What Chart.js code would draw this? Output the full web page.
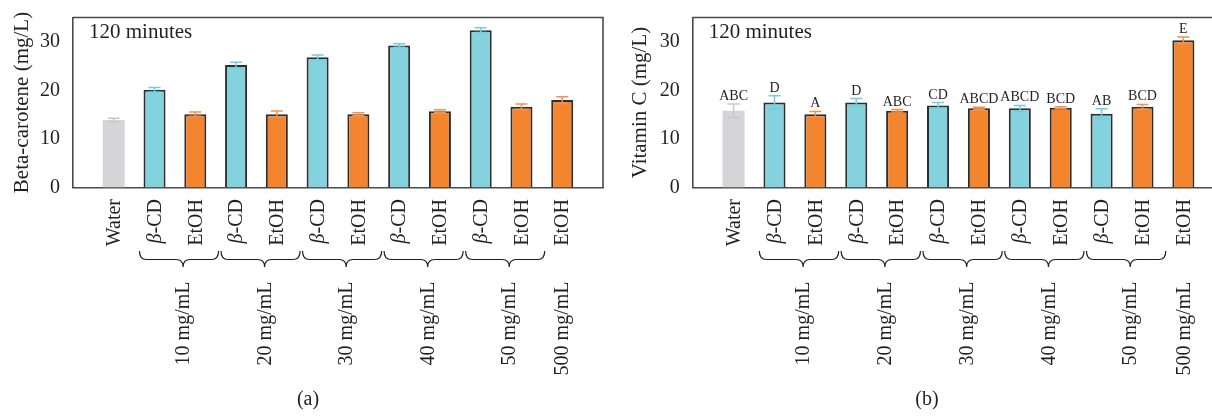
<!DOCTYPE html>
<html>
<head>
<meta charset="utf-8">
<script src="https://cdn.jsdelivr.net/npm/chart.js@4.4.1/dist/chart.umd.min.js"></script>
<style>
body { margin: 0; background: #fff; width: 1212px; height: 417px; overflow: hidden; position: relative; }
canvas { position: absolute; top: 0; }
#chartA { left: 0; }
#chartB { left: 610px; }
</style>
</head>
<body>
<canvas id="chartA" width="610" height="417"></canvas>
<canvas id="chartB" width="602" height="417"></canvas>
<script>
// Données (120 minutes)
const treatments = ['Water', 'β-CD', 'EtOH', 'β-CD', 'EtOH', 'β-CD', 'EtOH', 'β-CD', 'EtOH', 'β-CD', 'EtOH', 'EtOH'];
const concentrations = ['10 mg/mL', '20 mg/mL', '30 mg/mL', '40 mg/mL', '50 mg/mL'];
const concentrationHaute = '500 mg/mL';
const betaCarotene = [13.9, 20.1, 15.1, 25.2, 15.1, 26.8, 15.1, 29.25, 15.7, 32.4, 16.6, 18.0];
const betaCaroteneSd = [0.35, 0.5, 0.45, 0.6, 0.65, 0.5, 0.3, 0.35, 0.3, 0.5, 0.6, 0.7];
const vitaminC = [15.8, 17.5, 15.1, 17.5, 15.8, 16.9, 16.3, 16.3, 16.4, 15.2, 16.6, 30.3];
const vitaminCSd = [1.4, 1.4, 0.55, 0.8, 0.25, 0.6, 0.2, 0.6, 0.2, 1.0, 0.5, 0.7];
const vitaminCLetters = ['ABC', 'D', 'A', 'D', 'ABC', 'CD', 'ABCD', 'ABCD', 'BCD', 'AB', 'BCD', 'E'];
const yTicks = [0, 10, 20, 30];

const couleurs = { 'Water': '#d5d5d7', 'β-CD': '#83d2dd', 'EtOH': '#f3852e' };
const couleursErreur = { 'Water': '#c8c8ca', 'β-CD': '#6fcfdd', 'EtOH': '#f6904a' };
const police = 'Liberation Serif';
const encre = '#231f20';
const cadre = '#4a4a4a';

Chart.defaults.font.family = police;
Chart.defaults.color = encre;

// Texte tourné (lecture de bas en haut), aligné en haut sur yHaut
function texteVertical(ctx, morceaux, x, yHaut) {
    let total = 0;
    morceaux.forEach(m => { ctx.font = m.font; m.w = ctx.measureText(m.t).width; total += m.w; });
    ctx.save();
    ctx.translate(x, yHaut);
    ctx.rotate(-Math.PI / 2);
    ctx.textAlign = 'left';
    ctx.textBaseline = 'middle';
    let pos = -total;
    morceaux.forEach(m => { ctx.font = m.font; ctx.fillText(m.t, pos, 0); pos += m.w; });
    ctx.restore();
}

function accolade(ctx, gauche, droite, pointe, y0, y1, y2) {
    const r = 7;
    ctx.beginPath();
    ctx.moveTo(gauche, y0);
    ctx.quadraticCurveTo(gauche, y1, gauche + r, y1);
    ctx.lineTo(pointe - r, y1);
    ctx.quadraticCurveTo(pointe, y1, pointe, y2);
    ctx.quadraticCurveTo(pointe, y1, pointe + r, y1);
    ctx.lineTo(droite - r, y1);
    ctx.quadraticCurveTo(droite, y1, droite, y0);
    ctx.stroke();
}

const decorPlugin = {
    id: 'decor',
    afterDatasetsDraw(chart, args, opts) {
        const ctx = chart.ctx;
        const xs = chart.scales.x, ys = chart.scales.y;
        const area = chart.chartArea;
        const pas = xs.getPixelForValue(1) - xs.getPixelForValue(0);
        const normal = '20px "' + police + '"';
        const italique = 'italic 20px "' + police + '"';
        ctx.save();

        // barres d'erreur + lettres
        opts.values.forEach((v, i) => {
            const px = xs.getPixelForValue(i + 1);
            const haut = ys.getPixelForValue(v + opts.errors[i]);
            const bas = ys.getPixelForValue(v - opts.errors[i]);
            ctx.strokeStyle = couleursErreur[treatments[i]];
            ctx.lineWidth = 1.5;
            ctx.beginPath();
            ctx.moveTo(px, haut); ctx.lineTo(px, bas);
            ctx.moveTo(px - 6, haut); ctx.lineTo(px + 6, haut);
            ctx.moveTo(px - 6, bas); ctx.lineTo(px + 6, bas);
            ctx.stroke();
            if (opts.letters) {
                ctx.fillStyle = encre;
                ctx.font = '14px "' + police + '"';
                ctx.textAlign = 'center';
                ctx.textBaseline = 'alphabetic';
                ctx.fillText(opts.letters[i], px, haut - 4);
            }
        });

        // cadre haut / droit
        ctx.strokeStyle = cadre;
        ctx.lineWidth = 1.6;
        ctx.beginPath();
        ctx.moveTo(area.left, area.top);
        ctx.lineTo(area.right, area.top);
        if (opts.bordDroit) ctx.lineTo(area.right, area.bottom);
        ctx.stroke();

        ctx.fillStyle = encre;
        ctx.font = '21px "' + police + '"';
        ctx.textAlign = 'left';
        ctx.textBaseline = 'middle';
        ctx.fillText('120 minutes', area.left + 16, area.top + 15);

        // étiquettes de l'axe x
        treatments.forEach((t, i) => {
            const px = xs.getPixelForValue(i + 1);
            const morceaux = t === 'β-CD'
                ? [{ t: 'β', font: italique }, { t: '-CD', font: normal }]
                : [{ t: t, font: normal }];
            texteVertical(ctx, morceaux, px + 1, 199);
        });

        // accolades + concentrations
        ctx.strokeStyle = encre;
        ctx.lineWidth = 1.2;
        concentrations.forEach((c, k) => {
            const xb = xs.getPixelForValue(2 + 2 * k);
            const pointe = xb + 0.7 * pas;
            accolade(ctx, xb - 0.37 * pas, xb + 1.57 * pas, pointe, 251, 259.5, 267);
            texteVertical(ctx, [{ t: c, font: normal }], pointe + 1, 281.5);
        });
        texteVertical(ctx, [{ t: concentrationHaute, font: normal }], xs.getPixelForValue(treatments.length) + 1, 281.5);

        ctx.textAlign = 'center';
        ctx.font = normal;
        ctx.fillText(opts.caption, opts.captionX, 400);
        ctx.restore();
    }
};

function creerGraphique(id, valeurs, ecarts, lettres, titreY, options) {
    const ctx = document.getElementById(id).getContext('2d');
    return new Chart(ctx, {
        type: 'bar',
        data: {
            datasets: [{
                data: valeurs.map((v, i) => ({ x: i + 1, y: v })),
                backgroundColor: treatments.map(t => couleurs[t]),
                borderColor: '#2e2e2e',
                borderWidth: treatments.map(t => t === 'Water' ? 0 : 2),
                barPercentage: 0.54,
                categoryPercentage: 1
            }]
        },
        options: {
            responsive: false,
            animation: false,
            layout: { padding: { left: options.padGauche, right: options.padDroite, top: 17.5, bottom: 229.5 } },
            plugins: {
                legend: { display: false },
                tooltip: { enabled: false },
                decor: {
                    values: valeurs, errors: ecarts, letters: lettres,
                    bordDroit: options.bordDroit, caption: options.caption, captionX: options.captionX
                }
            },
            scales: {
                x: {
                    type: 'linear', min: 0, max: options.xMax, offset: false,
                    ticks: { display: false },
                    grid: { display: false },
                    border: { display: true, color: cadre, width: 1.6 },
                    afterFit: s => { s.height = 0; }
                },
                y: {
                    min: 0, max: 35,
                    afterBuildTicks: s => { s.ticks = yTicks.map(v => ({ value: v })); },
                    ticks: { font: { size: 20 }, color: encre, padding: 5 },
                    grid: { display: false },
                    border: { display: true, color: cadre, width: 1.6 },
                    title: { display: true, text: titreY, font: { size: 21, lineHeight: 1.2 }, color: encre, padding: 0 },
                    afterFit: s => { s.width = options.largeurY; }
                }
            }
        },
        plugins: [decorPlugin]
    });
}

creerGraphique('chartA', betaCarotene, betaCaroteneSd, null, 'Beta-carotene (mg/L)',
    { padGauche: 10.1, padDroite: 7, largeurY: 62.9, xMax: 13, bordDroit: true, caption: '(a)', captionX: 308 });
creerGraphique('chartB', vitaminC, vitaminCSd, vitaminCLetters, 'Vitamin C (mg/L)',
    { padGauche: 17.4, padDroite: 0, largeurY: 65.3, xMax: 12.7, bordDroit: false, caption: '(b)', captionX: 317 });
</script>
</body>
</html>
